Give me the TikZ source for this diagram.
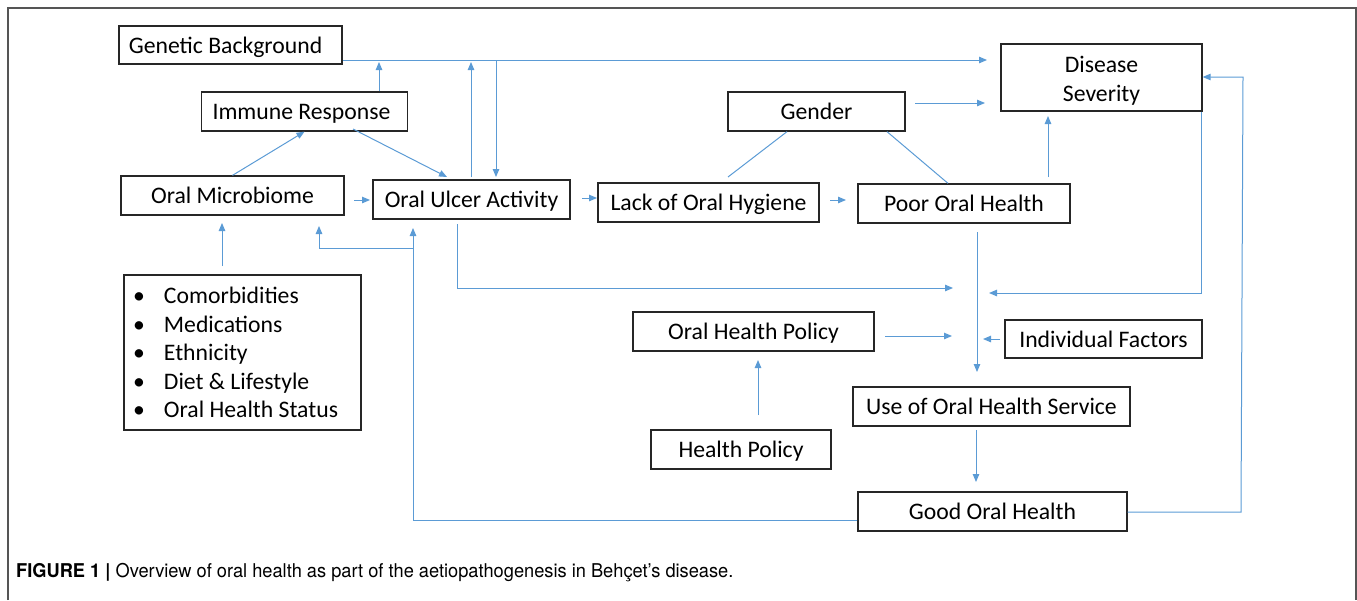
\documentclass[tikz,border=0pt]{standalone}
\usepackage{fontspec}
\setmainfont{Carlito}
\newfontfamily\capfont[FakeStretch=0.96]{TeX Gyre Heros}
\usetikzlibrary{arrows.meta}
\definecolor{lblue}{HTML}{5B9BD5}
\definecolor{boxc}{HTML}{262626}
\definecolor{framec}{HTML}{555555}
\tikzset{
  box/.style={draw=boxc, line width=1.3pt, inner sep=0pt, font=\fontsize{23.7}{29}\selectfont, align=center},
  one/.style={text height=18pt, text depth=1.4pt},
  arr/.style={draw=lblue, line width=1pt, -{Triangle[length=8pt,width=6.5pt]}},
  ln/.style={draw=lblue, line width=1pt},
}
\begin{document}
\begin{tikzpicture}[x=1pt,y=-1pt]
\useasboundingbox (0,0) rectangle (1357,600);
\draw[framec, line width=1.5pt] (8,600) -- (8,8) -- (1356,8) -- (1356,600);
% nodes
\node[box, one, minimum width=223pt, minimum height=38pt] (gb) at (230.5,45) {Genetic Background\hspace{10pt}};
\node[box, one, minimum width=206pt, minimum height=39pt] (ir) at (304.5,111.5) {Immune Response\hspace{6pt}};
\node[box, one, minimum width=223pt, minimum height=39pt] (om) at (232.5,195.5) {Oral Microbiome};
\node[box, one, minimum width=197pt, minimum height=39pt] (oua) at (471.5,199.5) {Oral Ulcer Activity};
\node[box, one, minimum width=221pt, minimum height=39pt] (loh) at (708.5,202.5) {Lack of Oral Hygiene};
\node[box, one, minimum width=177pt, minimum height=39pt] (gen) at (816.5,111.5) {Gender};
\node[box, one, minimum width=212pt, minimum height=39pt] (poh) at (964,203.5) {Poor Oral Health};
\node[box, minimum width=201pt, minimum height=67pt] (ds) at (1101.5,77.5) {\rule{0pt}{22.6pt}Disease\\Severity};
\node[box, minimum height=155pt, align=flush left, text width=217pt, inner xsep=10pt, font=\fontsize{23.7}{28.4}\selectfont] (bl) at (242.5,352.5)
  {\makebox[30pt][l]{\hspace{-1pt}\textbullet}Comorbidities\\
   \makebox[30pt][l]{\hspace{-1pt}\textbullet}Medications\\
   \makebox[30pt][l]{\hspace{-1pt}\textbullet}Ethnicity\\
   \makebox[30pt][l]{\hspace{-1pt}\textbullet}Diet \& Lifestyle\\
   \makebox[30pt][l]{\hspace{-1pt}\textbullet}Oral Health Status};
\node[box, one, minimum width=241pt, minimum height=39pt] (ohp) at (753.5,331.5) {Oral Health Policy};
\node[box, one, minimum width=197pt, minimum height=38pt] (if) at (1103.5,339) {Individual Factors};
\node[box, one, minimum width=277pt, minimum height=39pt] (uohs) at (991.5,406.5) {Use of Oral Health Service};
\node[box, one, minimum width=180pt, minimum height=39pt] (hp) at (741,449.5) {Health Policy};
\node[box, one, minimum width=269pt, minimum height=39pt] (goh) at (992.5,511.5) {Good Oral Health};
% junction coordinates
\coordinate (top) at (987,60);
\coordinate (mid) at (953,288);
\coordinate (mid2) at (989,293);
\coordinate (ret) at (413,520);
% connectors
\draw[arr] (gb.east |- top) -- (top);
\draw[arr] (ir.north -| 379,0) -- (379,62);
\draw[arr] (om.north) -- (ir.south);
\draw[arr] (353,129) -- (447,177);
\draw[arr] (471,177) -- (471,62);
\draw[arr] (496,60) -- (496,177);
\draw[arr] (354,200) -- (370,200);
\draw[arr] (582,198) -- (597,198);
\draw[arr] (830,200) -- (846,200);
\draw[arr] (915,103) -- (985,103);
\draw[ln] (gen.south -| 787,0) -- (728,177);
\draw[ln] (gen.south -| 887,0) -- (poh.north -| 948,0);
\draw[arr] (1048,177) -- (1048,116);
\draw[arr] (977,232) -- (977,372);
\draw[arr] (457,224) -- (457,288) -- (mid);
\draw[arr] (ds.south -| 1201,0) -- (1201,293) -- (mid2);
\draw[arr] (885,336) -- (952,336);
\draw[arr] (1000,339) -- (983,339);
\draw[arr] (758,415) -- (758,360);
\draw[arr] (976,430) -- (976,482);
\draw[arr] (goh.west |- ret) -- (ret) -- (413,228);
\draw[arr] (413,248) -- (319,248) -- (319,226);
\draw[arr] (222,266) -- (222,223);
\draw[arr] (goh.east |- 0,512) -- (1241,512) -- (1243,77) -- (ds.east |- 0,77);
% caption
\node[anchor=west, inner sep=0pt, font=\capfont\fontsize{19}{22}\selectfont] (cap) at (16,573)
  {\textbf{FIGURE 1 |} Overview of oral health as part of the aetiopathogenesis in Behçet’s disease.};
\end{tikzpicture}
\end{document}
